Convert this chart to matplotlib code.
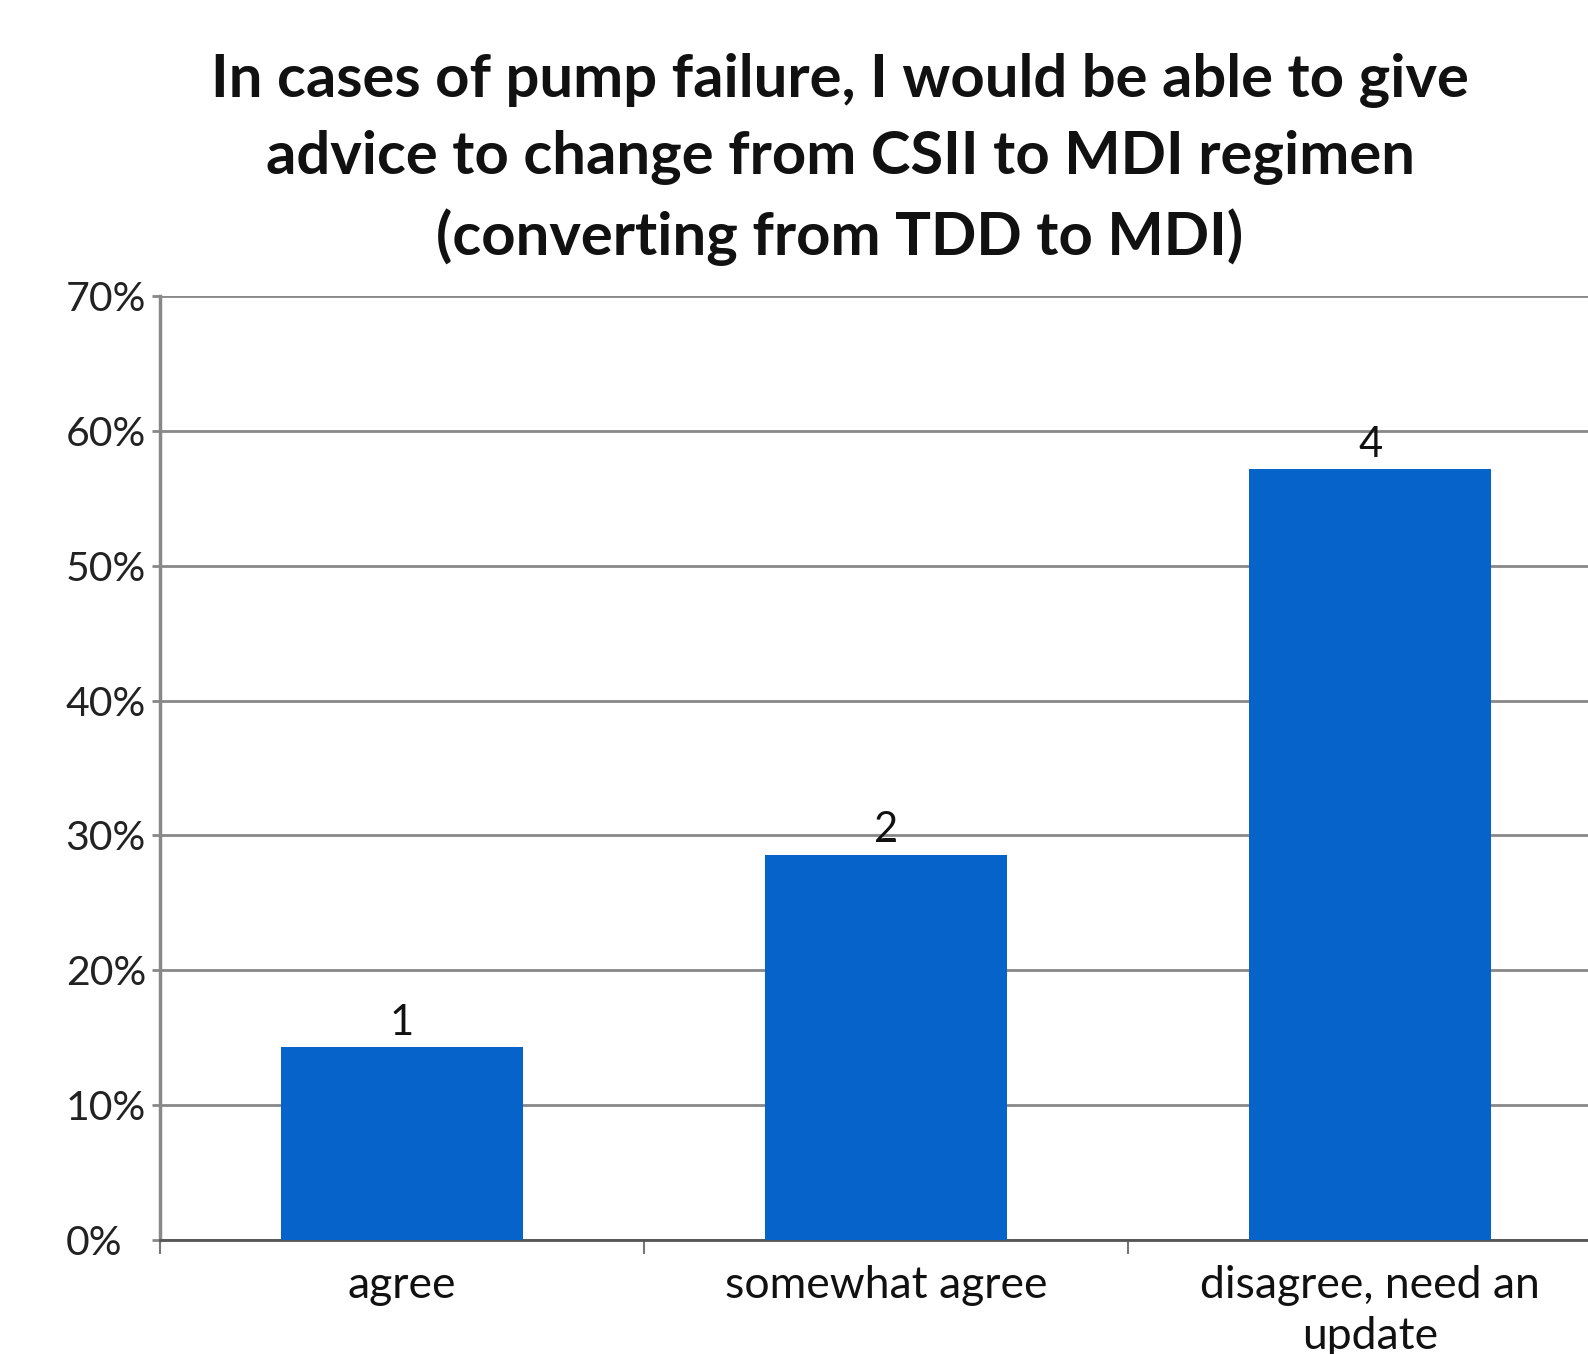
import matplotlib.pyplot as plt
from matplotlib.ticker import PercentFormatter

categories = ["agree", "somewhat agree", "disagree, need an\nupdate"]
counts = [1, 2, 4]
shares = [14.29, 28.57, 57.14]
yticks = [0, 10, 20, 30, 40, 50, 60, 70]

plt.rcParams['font.family'] = ['Lato', 'DejaVu Sans']

fig = plt.figure(figsize=(15.88, 13.54), dpi=100)
ax = fig.add_axes([0.1008, 0.0842, 0.9144, 0.6972])

x = range(len(categories))
bars = ax.bar(x, shares, width=0.5, color="#0563c9", zorder=3)

for b, c in zip(bars, counts):
    ax.annotate(str(c), (b.get_x() + b.get_width() / 2, b.get_height()),
                xytext=(0, 4), textcoords="offset points",
                ha="center", va="bottom", fontsize=30, color="#111111")

ax.set_xlim(-0.5, 2.5)
ax.set_ylim(0, 70)
ax.set_yticks(yticks)
ax.yaxis.set_major_formatter(PercentFormatter(decimals=0))
ax.grid(axis="y", color="#888888", linewidth=2, zorder=0)

ax.set_xticks([-0.5, 0.5, 1.5, 2.5])
ax.set_xticklabels([])
ax.set_xticks(list(x), minor=True)
ax.set_xticklabels(categories, minor=True, fontsize=32, color="#111111",
                   linespacing=1.3)
ax.tick_params(axis="x", which="minor", length=0, pad=18)
ax.tick_params(axis="x", which="major", length=10, width=1.5, color="#777777")
ax.tick_params(axis="y", length=6, width=2, color="#888888", pad=62,
               labelsize=29.5, labelcolor="#222222")
for lab in ax.get_yticklabels():
    lab.set_horizontalalignment("left")

for side in ["top", "right"]:
    ax.spines[side].set_visible(False)
ax.spines["left"].set_color("#888888")
ax.spines["left"].set_linewidth(2.5)
ax.spines["bottom"].set_color("#555555")
ax.spines["bottom"].set_linewidth(2)

fig.text(0.529, 0.961,
         "In cases of pump failure, I would be able to give\n"
         "advice to change from CSII to MDI regimen\n"
         "(converting from TDD to MDI)",
         ha="center", va="top", fontsize=43, fontweight="bold",
         linespacing=1.5, color="#111111")

fig.savefig("out.png", dpi=100)
